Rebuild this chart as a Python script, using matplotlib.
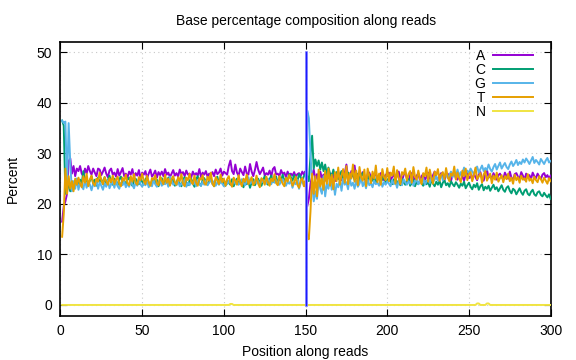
import matplotlib
matplotlib.use("Agg")
import matplotlib.pyplot as plt
import numpy as np

plt.rcParams['font.family'] = ['Liberation Sans', 'DejaVu Sans']

positions = list(range(1, 301))

A = [16.5, 19.5, 20.5, 22.0, 28.5, 29.0, 26.0, 27.5, 25.5, 27.0,
     26.5, 27.5, 26.0, 25.5, 27.0, 26.0, 27.5, 26.5, 25.8, 27.0,
     26.2, 25.5, 27.0, 26.8, 25.7, 26.4, 27.2, 26.0, 25.3, 26.6,
     27.0, 25.8, 26.2, 25.4, 26.9, 25.6, 26.3, 27.1, 25.5, 26.0,
     25.2, 26.4, 25.8, 26.9, 25.3, 26.1, 25.6, 26.7, 25.0, 26.2,
     25.8, 26.5, 25.1, 26.0, 26.8, 25.4, 25.9, 26.6, 25.2, 26.3,
     25.7, 26.4, 25.5, 26.9, 25.8, 26.2, 25.3, 26.0, 26.7, 25.6,
     26.1, 25.4, 26.8, 25.9, 26.3, 25.5, 26.6, 25.8, 26.0, 25.2,
     26.4, 25.7, 26.1, 25.6, 26.9, 25.3, 26.2, 25.8, 26.5, 25.4,
     26.0, 25.7, 26.3, 25.5, 26.8, 25.9, 26.2, 27.0, 25.6, 26.4,
     26.1, 25.8, 27.5, 28.6, 26.5, 25.9, 27.8, 26.2, 25.6, 27.0,
     26.3, 25.7, 27.4, 26.0, 25.8, 27.9, 26.4, 25.5, 26.7, 28.3,
     26.8, 25.9, 26.5, 27.2, 25.6, 26.1, 25.8, 26.6, 25.4, 26.9,
     27.3, 25.8, 26.0, 25.5, 26.7, 25.9, 26.2, 25.3, 26.4, 25.7,
     26.0, 25.6, 26.3, 25.4, 25.9, 26.1, 25.5, 26.4, 25.8, 26.5,
     19.5, 21.0, 24.0, 25.5, 26.8, 24.8, 25.9, 24.2, 26.4, 25.1,
     25.8, 24.6, 26.2, 25.3, 24.9, 26.0, 25.7, 24.5, 25.9, 26.4,
     25.0, 24.7, 25.8, 26.1, 27.8, 25.2, 24.8, 26.5, 25.4, 27.6,
     25.1, 26.0, 24.6, 25.7, 26.3, 25.0, 24.5, 25.9, 26.2, 25.3,
     24.8, 25.6, 26.0, 24.9, 25.4, 26.1, 25.2, 24.7, 25.8, 25.5,
     26.2, 24.6, 25.3, 25.9, 24.8, 25.6, 26.4, 25.1, 24.5, 25.7,
     26.3, 25.0, 24.4, 25.8, 26.1, 25.2, 24.9, 25.6, 26.0, 24.7,
     25.5, 25.9, 24.8, 25.3, 26.2, 25.0, 24.6, 25.7, 26.4, 25.1,
     24.9, 25.6, 26.1, 25.3, 24.7, 25.8, 26.0, 25.2, 24.5, 25.9,
     26.3, 25.0, 24.8, 25.7, 26.1, 25.4, 24.6, 25.9, 26.2, 25.1,
     25.5, 24.8, 26.0, 25.3, 24.7, 25.8, 26.3, 25.0, 24.6, 25.9,
     26.8, 25.2, 25.6, 24.9, 26.1, 25.4, 24.8, 25.7, 26.0, 25.3,
     24.9, 26.2, 25.5, 25.0, 26.4, 25.2, 24.7, 25.9, 26.1, 25.4,
     25.0, 26.3, 25.6, 24.8, 26.0, 25.3, 25.7, 24.9, 26.2, 25.5,
     25.1, 26.0, 25.4, 24.9, 25.8, 26.1, 25.3, 25.7, 25.0, 25.6]

C = [36.5, 35.5, 22.0, 25.0, 23.5, 22.5, 24.5, 23.0, 24.0, 25.0,
     23.5, 24.8, 24.0, 26.5, 24.2, 25.0, 23.8, 24.6, 25.5, 24.0,
     24.8, 23.6, 25.2, 24.4, 24.9, 23.9, 25.3, 24.1, 24.7, 25.6,
     24.2, 23.8, 25.0, 24.5, 23.7, 24.9, 25.4, 24.0, 24.6, 23.9,
     24.8, 25.2, 24.1, 23.6, 24.7, 25.0, 24.3, 23.9, 25.1, 24.4,
     23.8, 24.9, 25.3, 24.2, 23.7, 24.6, 25.0, 24.1, 24.8, 23.5,
     24.4, 25.1, 23.9, 24.7, 24.2, 25.2, 23.8, 24.5, 24.9, 23.6,
     24.3, 25.0, 24.0, 23.5, 24.8, 25.3, 24.2, 23.7, 24.6, 25.0,
     24.1, 23.4, 24.9, 25.5, 24.0, 23.6, 24.7, 25.1, 24.3, 23.8,
     24.6, 25.0, 24.2, 23.5, 24.8, 25.4, 23.9, 24.5, 25.0, 24.1,
     23.6, 24.7, 24.2, 23.8, 24.9, 23.5, 24.4, 25.0, 23.9, 24.6,
     24.1, 23.3, 24.8, 23.9, 24.5, 23.2, 24.3, 24.9, 23.7, 24.4,
     25.0, 24.1, 23.6, 24.7, 25.5, 24.2, 23.8, 24.9, 25.6, 24.3,
     24.8, 25.4, 24.0, 25.2, 24.6, 25.8, 24.4, 25.1, 24.7, 25.9,
     25.3, 24.6, 25.7, 25.0, 24.5, 25.9, 25.2, 24.8, 25.5, 26.0,
     25.5, 24.5, 29.5, 33.5, 27.0, 28.8, 27.5, 28.6, 26.8, 28.2,
     26.5, 27.8, 25.9, 27.2, 26.0, 25.3, 26.8, 25.5, 26.3, 24.9,
     25.8, 26.5, 25.1, 24.6, 25.9, 26.2, 24.8, 25.4, 26.0, 24.7,
     25.3, 25.9, 24.5, 25.6, 26.1, 24.9, 25.2, 24.4, 25.7, 25.0,
     24.6, 25.4, 24.1, 24.8, 25.3, 24.3, 24.9, 25.5, 24.2, 24.7,
     25.1, 24.4, 23.9, 24.8, 25.2, 24.0, 24.6, 23.7, 24.9, 24.3,
     23.8, 24.5, 25.0, 23.6, 24.2, 24.8, 23.5, 24.4, 23.9, 24.7,
     24.1, 23.6, 24.5, 23.9, 24.3, 23.4, 24.8, 24.0, 23.5, 24.4,
     23.8, 24.6, 23.3, 24.2, 24.7, 23.7, 24.1, 23.4, 24.5, 23.9,
     23.5, 24.3, 23.8, 23.2, 24.0, 23.6, 24.4, 23.1, 23.7, 24.2,
     23.4, 22.9, 23.8, 23.3, 24.1, 22.8, 23.5, 23.9, 22.7, 23.4,
     23.0, 23.6, 22.6, 23.2, 23.8, 22.9, 23.3, 22.5, 23.1, 23.7,
     22.8, 22.4, 23.2, 23.5, 22.6, 22.1, 23.0, 22.7, 21.9, 22.5,
     23.1, 22.3, 21.8, 22.6, 22.9, 22.0, 21.7, 22.4, 22.8, 21.9,
     21.6, 22.3, 22.5, 21.8, 21.5, 22.2, 21.7, 21.3, 21.9, 21.0]

G = [36.5, 36.0, 36.3, 23.5, 36.0, 28.0, 22.5, 24.5, 23.0, 25.0,
     22.8, 24.2, 23.5, 22.9, 24.8, 23.2, 24.5, 23.8, 22.7, 24.0,
     23.5, 24.6, 23.0, 24.3, 23.6, 22.8, 24.1, 23.4, 24.7, 23.1,
     23.9, 24.4, 23.2, 24.8, 23.5, 23.0, 24.2, 23.7, 24.5, 23.3,
     24.0, 23.4, 24.6, 23.8, 23.1, 24.3, 23.6, 24.9, 23.9, 23.4,
     24.2, 23.7, 24.5, 23.3, 24.0, 23.5, 24.7, 23.9, 23.4, 24.3,
     24.8, 23.6, 24.1, 23.9, 24.5, 23.4, 25.4, 24.6, 23.8, 24.2,
     23.7, 24.4, 23.5, 24.0, 23.8, 24.9, 23.4, 24.2, 23.7, 24.5,
     23.9, 24.3, 23.5, 24.7, 24.0, 23.6, 24.4, 23.8, 24.6, 23.7,
     24.2, 24.8, 23.9, 24.5, 23.6, 24.3, 23.8, 24.7, 24.0, 23.5,
     24.4, 23.9, 24.6, 24.1, 23.7, 24.8, 24.0, 24.5, 23.8, 24.3,
     24.9, 24.2, 23.7, 24.6, 25.3, 24.0, 24.4, 23.9, 24.7, 24.1,
     24.5, 23.8, 24.9, 24.3, 24.6, 24.0, 25.0, 24.4, 23.9, 24.8,
     24.2, 24.7, 24.1, 23.8, 24.5, 24.9, 24.3, 23.6, 24.4, 24.0,
     24.6, 23.2, 24.3, 23.9, 24.8, 23.0, 24.1, 24.5, 23.6, 24.2,
     38.5, 37.0, 30.0, 24.0, 20.5, 22.5, 21.0, 24.5, 23.0, 22.0,
     25.5, 21.5, 24.0, 23.0, 25.2, 22.8, 24.5, 21.8, 24.0, 23.3,
     24.8, 22.6, 25.0, 23.8, 24.3, 22.9, 25.1, 23.6, 24.2, 23.0,
     24.7, 23.4, 24.0, 25.2, 23.5, 24.4, 23.1, 24.8, 23.7, 24.1,
     23.3, 24.6, 23.9, 24.2, 23.6, 24.9, 23.4, 24.3, 23.8, 24.5,
     24.0, 23.5, 24.7, 23.9, 24.4, 23.2, 24.6, 24.1, 23.7, 24.9,
     24.3, 23.8, 24.5, 24.0, 25.0, 23.6, 24.4, 24.8, 23.9, 24.6,
     24.2, 25.1, 23.8, 24.5, 24.9, 24.1, 25.3, 24.4, 24.8, 25.5,
     24.6, 25.0, 25.8, 24.7, 25.4, 26.0, 25.1, 25.7, 26.4, 25.3,
     26.1, 25.6, 26.8, 25.4, 26.3, 25.9, 27.2, 25.8, 26.6, 26.1,
     27.0, 26.4, 25.9, 26.8, 27.4, 26.2, 26.9, 27.6, 26.5, 27.1,
     26.7, 27.8, 26.9, 26.4, 27.3, 27.9, 26.8, 27.5, 28.2, 27.0,
     27.6, 28.1, 27.3, 26.9, 27.8, 28.4, 27.5, 28.0, 28.7, 27.7,
     28.3, 27.9, 28.8, 28.2, 29.0, 28.5, 27.9, 28.6, 29.3, 28.1,
     28.7, 28.3, 27.8, 28.9, 28.4, 27.9, 28.6, 29.1, 28.2, 28.5]

T = [13.5, 18.0, 27.0, 22.0, 25.5, 23.0, 24.5, 22.5, 25.0, 23.8,
     25.2, 24.0, 23.3, 25.5, 24.2, 26.0, 23.5, 24.8, 25.6, 24.1,
     23.6, 25.0, 24.4, 26.2, 24.7, 23.9, 25.3, 24.5, 23.8, 25.1,
     24.3, 25.6, 23.9, 24.8, 25.4, 24.0, 23.5, 25.2, 24.6, 25.8,
     24.1, 23.7, 25.5, 24.4, 25.9, 24.2, 23.8, 25.3, 24.7, 26.0,
     24.5, 23.9, 25.6, 24.3, 23.6, 25.1, 24.8, 25.7, 24.0, 23.7,
     25.4, 24.6, 23.9, 25.8, 24.2, 25.0, 23.6, 24.9, 25.5, 24.3,
     23.8, 25.3, 24.5, 25.9, 24.0, 23.5, 25.2, 24.7, 26.0, 24.4,
     23.9, 25.6, 24.2, 23.6, 25.1, 24.8, 25.7, 24.1, 23.8, 25.4,
     24.6, 26.2, 24.0, 23.5, 25.3, 24.7, 23.9, 25.8, 24.3, 25.0,
     23.6, 24.9, 25.5, 24.1, 23.4, 25.2, 24.6, 23.8, 25.7, 24.3,
     23.5, 25.0, 24.4, 25.8, 23.9, 24.6, 25.3, 23.7, 24.2, 25.6,
     24.0, 23.3, 25.1, 24.7, 23.8, 25.4, 24.2, 23.6, 25.0, 24.5,
     25.9, 24.1, 23.7, 25.5, 24.8, 24.0, 23.5, 25.2, 24.4, 25.7,
     24.9, 23.6, 24.3, 25.4, 23.8, 23.2, 24.7, 25.1, 23.5, 24.6,
     13.5, 13.0, 18.5, 26.0, 22.0, 25.5, 21.5, 26.8, 23.5, 25.0,
     22.8, 26.5, 24.0, 27.0, 23.6, 25.8, 22.9, 26.3, 24.5, 27.2,
     23.8, 25.6, 26.9, 24.2, 27.5, 23.9, 26.1, 25.0, 27.8, 24.4,
     26.6, 23.7, 27.3, 25.2, 24.6, 26.8, 23.5, 27.0, 25.5, 24.1,
     26.4, 25.0, 27.6, 24.3, 26.0, 23.8, 26.9, 25.3, 24.7, 27.1,
     24.5, 26.2, 25.6, 27.4, 24.0, 26.7, 25.1, 23.9, 26.3, 25.8,
     27.0, 24.6, 25.9, 26.5, 24.2, 27.3, 25.4, 24.8, 26.6, 25.0,
     23.9, 26.1, 25.5, 27.2, 24.4, 26.8, 25.2, 24.0, 26.4, 25.7,
     26.9, 24.6, 25.8, 26.3, 24.9, 27.1, 25.3, 24.5, 26.0, 25.6,
     27.4, 24.8, 26.2, 25.1, 24.3, 26.6, 25.5, 27.0, 24.7, 25.9,
     26.3, 24.5, 25.7, 27.2, 24.9, 25.4, 26.1, 24.2, 25.8, 26.5,
     24.6, 25.3, 26.0, 24.1, 25.6, 24.8, 26.2, 24.4, 25.1, 25.7,
     24.3, 25.5, 24.9, 26.0, 24.5, 25.2, 24.0, 25.8, 24.7, 25.3,
     24.2, 25.6, 24.8, 25.1, 24.4, 25.9, 24.6, 25.0, 24.1, 25.4,
     24.7, 24.3, 25.5, 24.9, 24.2, 25.2, 24.6, 24.0, 25.1, 24.5]

N_zero = [0.0] * 300
N_bumps = {104: 0.2, 105: 0.2, 255: 0.3, 256: 0.3, 261: 0.3, 262: 0.3}
N = [N_bumps.get(p, v) for p, v in zip(positions, N_zero)]

read_boundary = 150
boundary_range = [0, 50]

series = [("A", A, "#9400d3"), ("C", C, "#009e73"), ("G", G, "#56b4e9"),
          ("T", T, "#e69f00"), ("N", N, "#f0e442")]

fig = plt.figure(figsize=(5.76, 3.6), dpi=100)
ax = fig.add_axes([0.105, 0.122, 0.851, 0.762])

for name, vals, col in series:
    ax.plot(positions, vals, color=col, lw=1.4, label=name, zorder=3)

ax.plot([read_boundary, read_boundary], boundary_range, color="#9090ff", lw=2.0, zorder=4)
ax.plot([read_boundary, read_boundary], boundary_range, color="#1a1aff", lw=1.0, zorder=5)

ax.set_xlim(0, 300)
ax.set_ylim(-2.2, 52.1)
ax.set_xticks(range(0, 301, 50))
ax.set_yticks(range(0, 51, 10))
ax.tick_params(direction="in", top=True, right=True, length=5, width=0.8, labelsize=10, pad=6)
ax.grid(True, color="#c8c8c8", linestyle=(0, (1, 3)), lw=0.8)
for s in ax.spines.values():
    s.set_linewidth(1.2)

ax.set_title("Base percentage composition along reads", fontsize=10, pad=12)
ax.set_xlabel("Position along reads", fontsize=10, labelpad=5)
ax.set_ylabel("Percent", fontsize=10, labelpad=12)

leg = ax.legend(loc="upper right", bbox_to_anchor=(0.975, 0.995), frameon=False,
                fontsize=10, markerfirst=False, handlelength=2.9,
                labelspacing=0.0, handletextpad=0.5, borderaxespad=0.0,
                borderpad=0.4)
for t in leg.get_texts():
    t.set_ha("right")

fig.savefig("out.png", dpi=100)
